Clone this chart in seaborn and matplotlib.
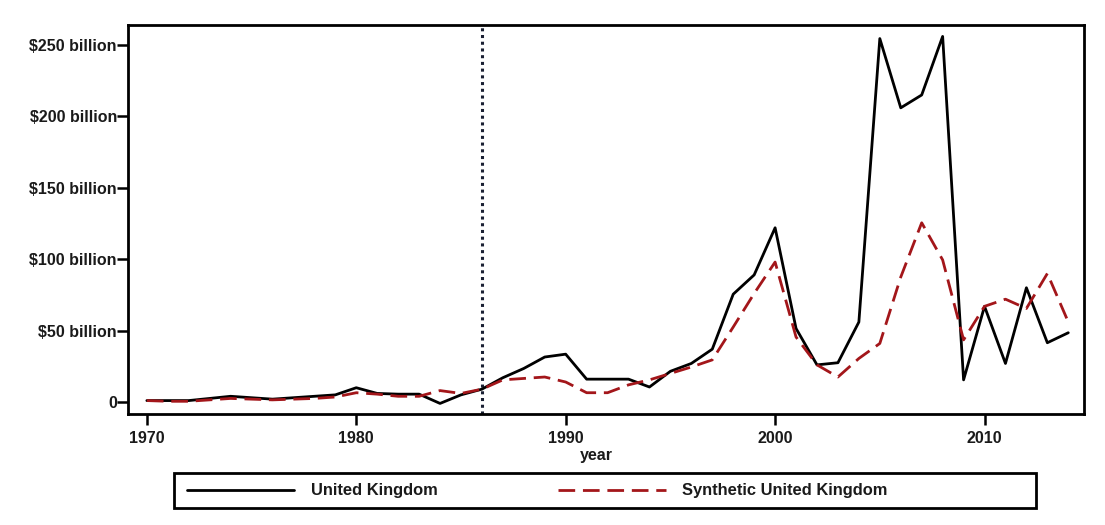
import numpy as np
import pandas as pd
import matplotlib
matplotlib.use("Agg")
import matplotlib.pyplot as plt
from matplotlib.lines import Line2D
from matplotlib.patches import Rectangle
import seaborn as sns

# Annual values, billions of US dollars
years = list(range(1970, 2015))
uk = [1, 1, 1, 2.5, 4, 3, 2, 3, 4, 5,
      10, 6, 5.5, 5.5, -1, 5, 9, 17, 23.5, 31.5,
      33.5, 16, 16, 16, 10.5, 21.5, 27, 37, 75.5, 89,
      122, 51.5, 26, 27.5, 56, 254.5, 206, 215, 256, 15.5,
      67, 27, 80, 41.5, 48.5]
synthetic_uk = [1, 0.5, 0.5, 1.5, 2.5, 2, 1.5, 2, 2.5, 3.5,
                6.5, 5.5, 4, 4, 8, 6, 9, 15.5, 16.5, 17.5,
                14, 6.5, 6.5, 12, 15.5, 20, 24.5, 29.5, 52.5, 76,
                98, 45.5, 26, 17.5, 30.5, 41, 87.5, 125.5, 99.5, 43.5,
                67, 72, 65.5, 90, 56]
series_names = ["United Kingdom", "Synthetic United Kingdom"]
y_ticks = [0, 50, 100, 150, 200, 250]
y_tick_labels = ["0", "$50 billion", "$100 billion", "$150 billion",
                 "$200 billion", "$250 billion"]
x_ticks = [1970, 1980, 1990, 2000, 2010]
treatment_year = 1986

df = pd.DataFrame({
    "year": years * 2,
    "value": uk + synthetic_uk,
    "series": [series_names[0]] * len(years) + [series_names[1]] * len(years),
})

sns.set_theme(style="white")
plt.rcParams["font.family"] = ["Liberation Sans", "DejaVu Sans"]
plt.rcParams["axes.unicode_minus"] = False

W, H = 1105, 525
FS = 11.5
LFS = 11.9
TXT = "#1a1a1a"
fig = plt.figure(figsize=(W / 100, H / 100), dpi=100)
ax = fig.add_axes([128 / W, 1 - 414 / H, (1084 - 128) / W, (414 - 25) / H])

red = "#a3161a"
dash = (6, 2.8)
palette = {series_names[0]: "black", series_names[1]: red}
dashes = {series_names[0]: "", series_names[1]: dash}
sns.lineplot(data=df, x="year", y="value", hue="series", style="series",
             palette=palette, dashes=dashes, linewidth=2.0, ax=ax,
             legend=False)

ax.axvline(treatment_year, color="#1a2033", linestyle=(0, (1, 1.2)),
           linewidth=2.2, zorder=1)

ax.set_xlim(1969.1, 2014.75)
ax.set_ylim(-8.4, 264)
ax.set_xticks(x_ticks)
ax.set_yticks(y_ticks)
ax.set_yticklabels(y_tick_labels)
ax.tick_params(axis="both", which="major", bottom=True, left=True,
               direction="out", length=8, width=1.8, color="black",
               labelsize=FS, labelcolor=TXT)
ax.tick_params(axis="y", pad=0)
ax.tick_params(axis="x", pad=4)
for lab in ax.get_xticklabels() + ax.get_yticklabels():
    lab.set_fontweight("bold")
ax.set_xlabel("year", fontsize=FS, fontweight="bold", color=TXT)
ax.xaxis.set_label_coords((596 - 128) / (1084 - 128), -0.087)
ax.set_ylabel("")
for sp in ax.spines.values():
    sp.set_visible(True)
    sp.set_color("black")
    sp.set_linewidth(2.0)

# Legend: entries plus a separate frame spanning the plot width
handles = [
    Line2D([], [], color="black", linewidth=2.0),
    Line2D([], [], color=red, linewidth=2.0, linestyle=(0, dash)),
]
leg = fig.legend(handles, series_names, loc="center left",
                 bbox_to_anchor=(187 / W, 1 - 491 / H),
                 ncol=2, frameon=False,
                 prop={"size": LFS, "weight": "bold"},
                 handlelength=6.5, handletextpad=1.0,
                 columnspacing=7.3, borderpad=0, borderaxespad=0)
for t in leg.get_texts():
    t.set_color(TXT)
frame = Rectangle((174 / W, 1 - 508 / H), (1036 - 174) / W, (508 - 473) / H,
                  transform=fig.transFigure, fill=False,
                  edgecolor="black", linewidth=2.0)
fig.patches.append(frame)

fig.savefig("out.png", dpi=100, facecolor="white")
